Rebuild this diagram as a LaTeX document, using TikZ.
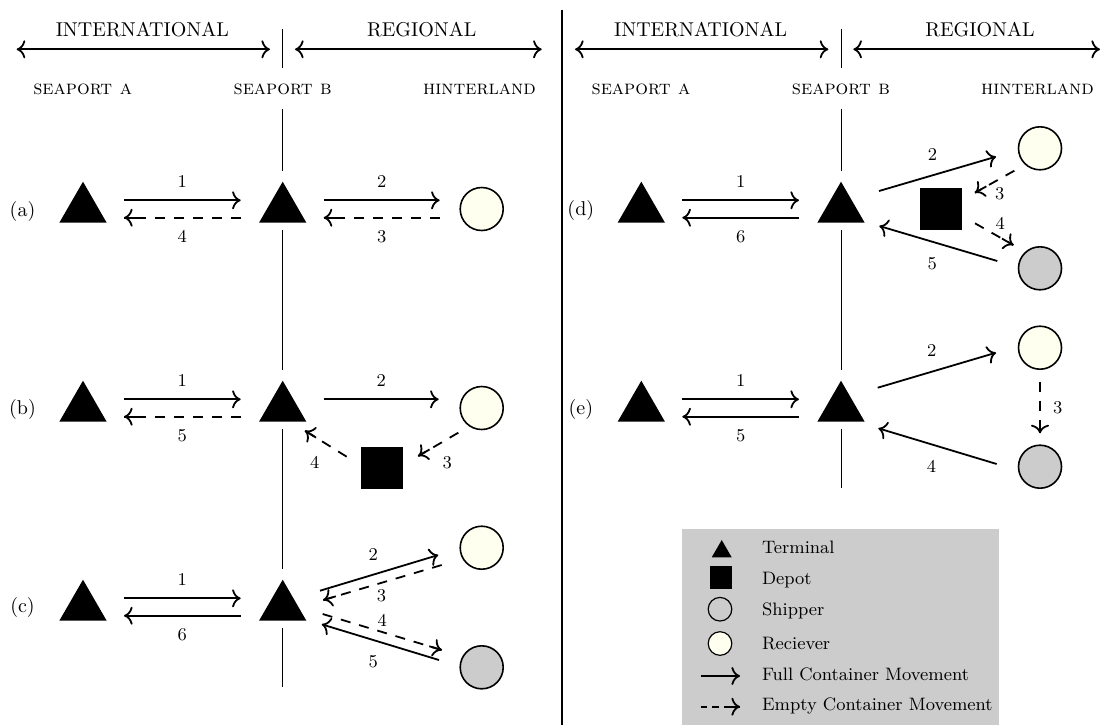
\documentclass[tikz,border=0pt]{standalone}
\usepackage{amssymb, amsmath}
\usepackage{tikz}
\usetikzlibrary{shapes,arrows,arrows.meta,decorations.markings}
\definecolor{recvfill}{RGB}{255,255,240}
\definecolor{shipfill}{RGB}{204,204,204}

\begin{document}
\begin{tikzpicture}[x=0.5pt,y={(0pt,-0.5pt)},>={To[scale=1.2]}]
      \tikzstyle{term} = [regular polygon, regular polygon sides=3, fill=black, inner sep=0pt, minimum size=27.3pt]
      \tikzstyle{depot} = [rectangle, fill=black, inner sep=0pt, minimum size=20.8pt]
      \tikzstyle{recv} = [circle, draw, thick, fill=recvfill, inner sep=0pt, minimum size=21.5pt]
      \tikzstyle{ship} = [circle, draw, thick, fill=shipfill, inner sep=0pt, minimum size=21.5pt]
      \tikzstyle{full} = [line width=0.9pt,->]
      \tikzstyle{tip} = [postaction={decorate}, decoration={markings, mark=at position 1 with {\pgfsetdash{}{0pt}\draw[line width=0.9pt] (-6.5pt,0pt)--(0pt,0pt); \arrow{>}}}]
      \tikzstyle{empty} = [line width=0.9pt, dash pattern=on 5pt off 4.5pt, tip]
      \tikzstyle{emptykey} = [line width=0.9pt, dash pattern=on 3.3pt off 2.5pt, tip]
      \tikzstyle{sep} = [thin, shorten <=3.5pt, shorten >=5pt]
      \tikzstyle{lbl} = [font=\small, midway]
      \tikzstyle{place} = [font=\scshape]
      \tikzstyle{keytext} = [font=\small, anchor=base west]
      \useasboundingbox (0,0) rectangle (1106,725);
      % main divider
      \coordinate (divT) at (561.7,10);
      \coordinate (divB) at (561.7,725);
      \draw [thick] (divT)--(divB);
      % headings, left half
      \node (intA) at (142.3,30) {INTERNATIONAL};
      \node (regA) at (421.7,30) {REGIONAL};
      \coordinate (intAl) at (16.7,49.3);
      \coordinate (intAr) at (270,49.3);
      \coordinate (regAl) at (295,49.3);
      \coordinate (regAr) at (541.7,49.3);
      \draw [line width=0.9pt,<->] (intAl)--(intAr);
      \draw [line width=0.9pt,<->] (regAl)--(regAr);
      \node [place] (spAa) at (82.7,89.3) {seaport a};
      \node [place] (spAb) at (282.7,89.3) {seaport b};
      \node [place] (spAh) at (479.5,89.3) {hinterland};
      % headings, right half
      \node (intB) at (700.6,30) {INTERNATIONAL};
      \node (regB) at (980,30) {REGIONAL};
      \coordinate (intBl) at (575,49.3);
      \coordinate (intBr) at (828.3,49.3);
      \coordinate (regBl) at (853.3,49.3);
      \coordinate (regBr) at (1100,49.3);
      \draw [line width=0.9pt,<->] (intBl)--(intBr);
      \draw [line width=0.9pt,<->] (regBl)--(regBr);
      \node [place] (spBa) at (641,89.3) {seaport a};
      \node [place] (spBb) at (841,89.3) {seaport b};
      \node [place] (spBh) at (1037.5,89.3) {hinterland};
      % row (a)
      \node (la) at (22.5,211) {(a)};
      \node [term] (a1) at (83,209) {};
      \node [term] (a2) at (282.7,209) {};
      \node [recv] (a3) at (481.7,209) {};
      \draw [full] ([shift={(41,-8.7)}]a1.center)--node[lbl,shift={(0,-18.6)}]{1}([shift={(-42,-8.7)}]a2.center);
      \draw [empty] ([shift={(-42,8.7)}]a2.center)--node[lbl,shift={(0,19)}]{4}([shift={(41,8.7)}]a1.center);
      \draw [full] ([shift={(41,-8.7)}]a2.center)--node[lbl,shift={(0,-18.6)}]{2}([shift={(-42,-8.7)}]a3.center);
      \draw [empty] ([shift={(-42,8.7)}]a3.center)--node[lbl,shift={(0,19)}]{3}([shift={(41,8.7)}]a2.center);
      % row (b)
      \node (lb) at (22.5,409) {(b)};
      \node [term] (b1) at (83,408) {};
      \node [term] (b2) at (282.7,408) {};
      \node [recv] (b3) at (481.7,408) {};
      \node [depot] (b4) at (381.8,467.8) {};
      \draw [full] ([shift={(41,-8.7)}]b1.center)--node[lbl,shift={(0,-18.6)}]{1}([shift={(-42,-8.7)}]b2.center);
      \draw [empty] ([shift={(-42,8.7)}]b2.center)--node[lbl,shift={(0,19)}]{5}([shift={(41,8.7)}]b1.center);
      \draw [full] ([shift={(41,-8.7)}]b2.center)--node[lbl,shift={(0,-18.6)}]{2}([shift={(-43,-8.7)}]b3.center);
      \draw [empty] ([shift={(-23.4,24.7)}]b3.center)--node[lbl,shift={(9,18)}]{3}([shift={(36.5,-11.8)}]b4.center);
      \draw [empty] ([shift={(-35.1,-11.1)}]b4.center)--node[lbl,shift={(-11,19)}]{4}([shift={(22.3,22.7)}]b2.center);
      % row (c)
      \node (lc) at (22.5,607) {(c)};
      \node [term] (c1) at (83,607) {};
      \node [term] (c2) at (282.7,607) {};
      \node [recv] (c3) at (481.7,547.7) {};
      \node [ship] (c4) at (481.7,667.3) {};
      \draw [full] ([shift={(41,-8.7)}]c1.center)--node[lbl,shift={(0,-18.6)}]{1}([shift={(-42,-8.7)}]c2.center);
      \draw [full] ([shift={(-42,8.7)}]c2.center)--node[lbl,shift={(0,19)}]{6}([shift={(41,8.7)}]c1.center);
      \draw [full] ([shift={(37.3,-16.3)}]c2.center)--node[lbl,shift={(-6,-18.6)}]{2}([shift={(-43.4,7.3)}]c3.center);
      \draw [empty] ([shift={(-40,17.3)}]c3.center)--node[lbl,shift={(-1,13.5)}]{3}([shift={(40.6,-7)}]c2.center);
      \draw [empty] ([shift={(40,7)}]c2.center)--node[lbl,shift={(0,-11.3)}]{4}([shift={(-40,-17.3)}]c4.center);
      \draw [full] ([shift={(-42.7,-7.3)}]c4.center)--node[lbl,shift={(-7,20)}]{5}([shift={(39,17.3)}]c2.center);
      % seaport B line, left half
      \coordinate (topA) at (282.7,29.3);
      \coordinate (botA) at (282.7,687);
      \draw [thin, shorten >=4.5pt] (topA)--(spAb);
      \draw [sep] (spAb)--(a2);
      \draw [sep] (a2)--(b2);
      \draw [sep] (b2)--(c2);
      \draw [thin, shorten <=3.5pt] (c2)--(botA);
      % row (d)
      \node (ld) at (580.8,210) {(d)};
      \node [term] (d1) at (641.3,209) {};
      \node [term] (d2) at (841,209) {};
      \node [recv] (d3) at (1040,148.3) {};
      \node [ship] (d4) at (1040,268.3) {};
      \node [depot] (d5) at (940.8,208.7) {};
      \draw [full] ([shift={(41,-8.7)}]d1.center)--node[lbl,shift={(0,-18.6)}]{1}([shift={(-42,-8.7)}]d2.center);
      \draw [full] ([shift={(-42,8.7)}]d2.center)--node[lbl,shift={(0,19)}]{6}([shift={(41,8.7)}]d1.center);
      \draw [full] ([shift={(38,-18)}]d2.center)--node[lbl,shift={(-5,-19)}]{2}([shift={(-44,8.4)}]d3.center);
      \draw [empty] ([shift={(-25.7,22.4)}]d3.center)--node[lbl,shift={(5,11.6)}]{3}([shift={(34.2,-16)}]d5.center);
      \draw [empty] ([shift={(34.2,14.6)}]d5.center)--node[lbl,shift={(6,-11)}]{4}([shift={(-26.7,-23.3)}]d4.center);
      \draw [full] ([shift={(-42.7,-7.3)}]d4.center)--node[lbl,shift={(-6,20)}]{5}([shift={(38.3,17)}]d2.center);
      % row (e)
      \node (le) at (580.8,409) {(e)};
      \node [term] (e1) at (641.3,408) {};
      \node [term] (e2) at (841,408) {};
      \node [recv] (e3) at (1040,347.7) {};
      \node [ship] (e4) at (1040,466.7) {};
      \draw [full] ([shift={(41,-8.7)}]e1.center)--node[lbl,shift={(0,-18.6)}]{1}([shift={(-42,-8.7)}]e2.center);
      \draw [full] ([shift={(-42,8.7)}]e2.center)--node[lbl,shift={(0,19)}]{5}([shift={(41,8.7)}]e1.center);
      \draw [full] ([shift={(36.7,-20.3)}]e2.center)--node[lbl,shift={(-5,-19.5)}]{2}([shift={(-44,5)}]e3.center);
      \draw [empty] ([shift={(0,34)}]e3.center)--node[lbl,shift={(17.7,0)}]{3}([shift={(0,-33.4)}]e4.center);
      \draw [full] ([shift={(-43.3,-2.7)}]e4.center)--node[lbl,shift={(-6,20.5)}]{4}([shift={(37.3,20.3)}]e2.center);
      % seaport B line, right half
      \coordinate (topB) at (841,29.3);
      \coordinate (botB) at (841,488);
      \draw [thin, shorten >=4.5pt] (topB)--(spBb);
      \draw [sep] (spBb)--(d2);
      \draw [sep] (d2)--(e2);
      \draw [thin, shorten <=3.5pt] (e2)--(botB);
      % key
      \fill [shipfill] (681.7,529.3) rectangle (999.3,725);
      \node [term, minimum size=11.5pt] (kT) at (721.7,551.5) {};
      \node [depot, minimum size=11.2pt] (kD) at (721.2,577.5) {};
      \node [circle, draw, semithick, inner sep=0pt, minimum size=11.8pt] (kS) at (720,609.2) {};
      \node [circle, draw, semithick, fill=recvfill, inner sep=0pt, minimum size=11.8pt] (kR) at (720,643.5) {};
      \coordinate (kFa) at (700.7,676);
      \coordinate (kFb) at (740,676);
      \coordinate (kEa) at (700.7,706.7);
      \coordinate (kEb) at (740,706.7);
      \draw [full] (kFa)--(kFb);
      \draw [emptykey] (kEa)--(kEb);
      \node [keytext] (kTt) at (755,553.3) {Terminal};
      \node [keytext] (kDt) at (755,584.3) {Depot};
      \node [keytext] (kSt) at (755,615.7) {Shipper};
      \node [keytext] (kRt) at (755,649) {Reciever};
      \node [keytext] (kFt) at (755,680) {Full Container Movement};
      \node [keytext] (kEt) at (755,710.7) {Empty Container Movement};
\end{tikzpicture}
\end{document}
